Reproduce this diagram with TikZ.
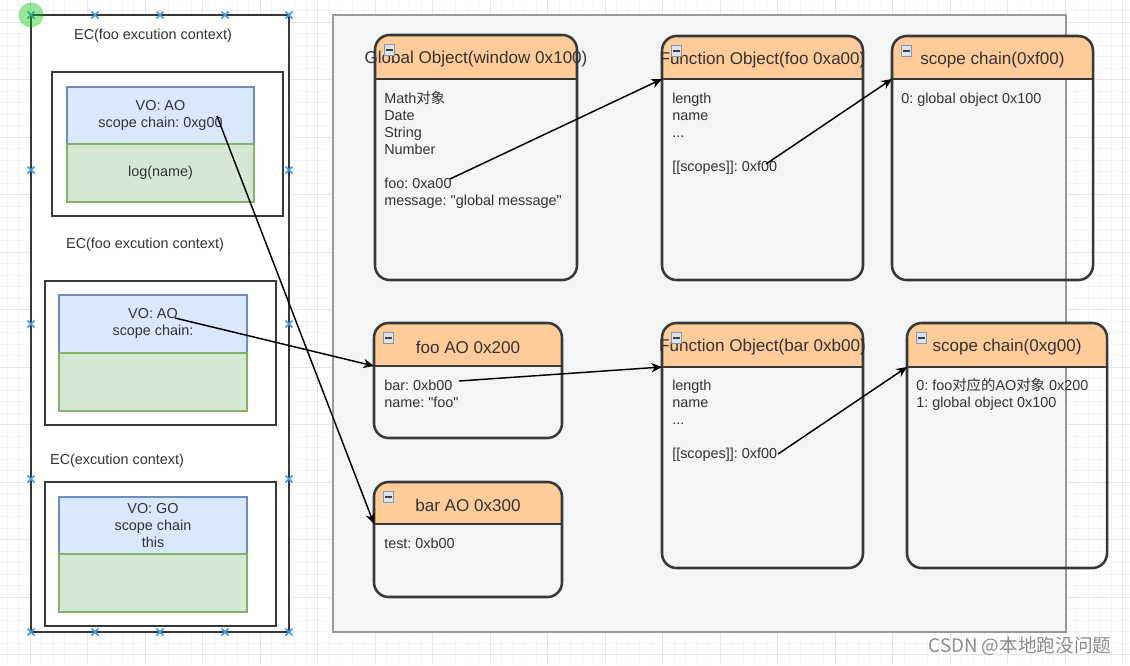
\documentclass[tikz,border=0pt]{standalone}
\usepackage{fontspec}
\setmainfont{Liberation Sans}
\newfontfamily\cjk{Noto Sans CJK SC}
\usetikzlibrary{fit,arrows.meta}
\frenchspacing
\definecolor{gridmaj}{HTML}{E6E6E6}
\definecolor{gridmin}{HTML}{F4F4F4}
\definecolor{panelfill}{HTML}{F4F5F7}
\definecolor{panelline}{HTML}{9A9A9A}
\definecolor{hdr}{HTML}{FFCC99}
\definecolor{boxline}{HTML}{383838}
\definecolor{txt}{HTML}{333333}
\definecolor{vofill}{HTML}{DAE8FC}
\definecolor{voline}{HTML}{6C8EBF}
\definecolor{exfill}{HTML}{D5E8D4}
\definecolor{exline}{HTML}{82B366}
\definecolor{xmkcol}{HTML}{3D9BE9}
\definecolor{iconfill}{HTML}{DCE3EC}
\definecolor{iconline}{HTML}{8496B0}
\definecolor{wmcol}{HTML}{8C8C8C}
\tikzset{
  bodytext/.style={font=\fontsize{10.8pt}{12.75pt}\selectfont, text=txt, inner sep=0pt, anchor=base west},
  ttl/.style={font=\fontsize{12.8pt}{15pt}\selectfont, text=txt, inner sep=0pt},
  eclabel/.style={font=\fontsize{10.8pt}{12.75pt}\selectfont, text=txt, inner sep=0pt},
  votext/.style={font=\fontsize{10.8pt}{13pt}\selectfont, text=txt, inner sep=0pt, align=center},
  objframe/.style={draw=boxline, line width=1.9pt, rounded corners=11pt, inner sep=0pt},
  divider/.style={draw=boxline, line width=1.9pt},
  framebox/.style={draw=boxline, line width=1.4pt, fill=white, inner sep=0pt},
  voblock/.style={draw=voline, fill=vofill, line width=0.9pt, inner sep=0pt},
  exblock/.style={draw=exline, fill=exfill, line width=0.9pt, inner sep=0pt},
  iconbox/.style={draw=iconline, fill=iconfill, line width=0.6pt, minimum size=8pt, inner sep=0pt,
    path picture={\draw[black!75, line width=1.1pt] ([xshift=-2.6pt]path picture bounding box.center) -- ([xshift=2.6pt]path picture bounding box.center);}},
  xmk/.style={draw=xmkcol, line width=1.2pt},
  conn/.style={draw=black, line width=1.1pt, -{Stealth[length=8pt,width=7pt]}},
}
\newcommand\objbox[7]{%
  \begin{scope}
    \clip (#2-3,#3-3) rectangle (#4+3,#6);
    \fill[hdr, rounded corners=11pt] (#2,#3) rectangle (#4,#5);
  \end{scope}
  \node[objframe, fit={(#2,#3)(#4,#5)}] (#1) {};
  \draw[divider] (#2,#6) -- (#4,#6);
  \coordinate (#1-h) at (#2,#6);
  \node[ttl] (#1-t) at ({(#2+#4)/2},{(#3+#6)/2+2.5}) {#7};
  \node[iconbox] (#1-i) at (#2+14.5,#3+15) {};
}
\newcommand\xm[2]{\draw[xmk] (#1-3.5,#2-3.5) -- (#1+3.5,#2+3.5) (#1-3.5,#2+3.5) -- (#1+3.5,#2-3.5);}
\newcommand\dq{\textquotedbl}
\begin{document}
\begin{tikzpicture}[x=0.75pt,y=-0.75pt]
\useasboundingbox (0,0) rectangle (1130,665);
\fill[white] (0,0) rectangle (1130,665);
% grid
\foreach \k in {0,...,98} {\draw[gridmin, line width=0.5pt] (7+11.5*\k,0) -- (7+11.5*\k,665);}
\foreach \k in {0,...,57} {\draw[gridmin, line width=0.5pt] (0,10.5+11.5*\k) -- (1130,10.5+11.5*\k);}
\foreach \k in {0,...,19} {\draw[gridmaj, line width=0.7pt] (30+57.5*\k,0) -- (30+57.5*\k,665);}
\foreach \k in {0,...,11} {\draw[gridmaj, line width=0.7pt] (0,22+57.5*\k) -- (1130,22+57.5*\k);}

% gray panel
\node[fit={(333,15)(1066,632)}, inner sep=0pt, fill=panelfill, draw=panelline, line width=0.9pt] (panel) {};

% left stack
\node[fit={(31,15)(289,632)}, framebox] (stack) {};
\node[eclabel] (ec1) at (153,36) {EC(foo excution context)};
\node[framebox, fit={(52,72)(283,216)}] (f1) {};
\node[voblock, fit={(67,87)(254,144)}] (vo1) {};
\node[exblock, fit={(67,144)(254,202)}] (ex1) {};
\node[votext] (vo1t) at (160.5,115.5) {VO: AO\\scope chain: 0xg00};
\node[eclabel] (ex1t) at (160.5,173) {log(name)};

\node[eclabel] (ec2) at (145,245) {EC(foo excution context)};
\node[framebox, fit={(45,281)(276,425)}] (f2) {};
\node[voblock, fit={(59,295)(247,353)}] (vo2) {};
\node[exblock, fit={(59,353)(247,411)}] (ex2) {};
\node[votext] (vo2t) at (153,323.5) {VO: AO\\scope chain:};

\node[eclabel] (ec3) at (117,461) {EC(excution context)};
\node[framebox, fit={(45,482)(276,626)}] (f3) {};
\node[voblock, fit={(59,497)(247,554)}] (vo3) {};
\node[exblock, fit={(59,554)(247,612)}] (ex3) {};
\node[votext] (vo3t) at (153,525.5) {VO: GO\\scope chain\\this};

% markers
\foreach \x in {31,95,160,225,289} {\xm{\x}{15}\xm{\x}{632}}
\foreach \y in {170,324,479} {\xm{31}{\y}\xm{289}{\y}}
\fill[green!75!black, opacity=0.4] (31,15) circle [radius=12.5];

% object boxes
\objbox{go}{375}{35}{577}{280}{79}{Global Object(window 0x100)}
\node[bodytext] (go1) at (384,103) {Math{\cjk 对象}};
\node[bodytext] (go2) at (384,120) {Date};
\node[bodytext] (go3) at (384,137) {String};
\node[bodytext] (go4) at (384,154) {Number};
\node[bodytext] (go5) at (384,188) {foo: 0xa00};
\node[bodytext] (go6) at (384,205) {message: \dq global message\dq};

\objbox{ff}{662}{36}{863}{280}{79}{Function Object(foo 0xa00)}
\node[bodytext] (ff1) at (672,103) {length};
\node[bodytext] (ff2) at (672,120) {name};
\node[bodytext] (ff3) at (672,137) {...};
\node[bodytext] (ff4) at (672,171) {[[scopes]]: 0xf00};

\objbox{sa}{892}{36}{1093}{280}{79}{scope chain(0xf00)}
\node[bodytext] (sa1) at (901,103) {0: global object 0x100};

\objbox{fa}{374}{323}{562}{438}{366}{foo AO 0x200}
\node[bodytext] (fa1) at (384,390) {bar: 0xb00};
\node[bodytext] (fa2) at (384,407) {name: \dq foo\dq};

\objbox{ba}{374}{482}{562}{597}{524}{bar AO 0x300}
\node[bodytext] (ba1) at (384,548) {test: 0xb00};

\objbox{fb}{662}{323}{863}{568}{367}{Function Object(bar 0xb00)}
\node[bodytext] (fb1) at (672,390) {length};
\node[bodytext] (fb2) at (672,407) {name};
\node[bodytext] (fb3) at (672,424) {...};
\node[bodytext] (fb4) at (672,458) {[[scopes]]: 0xf00};

\objbox{sb}{907}{323}{1107}{568}{367}{scope chain(0xg00)}
\node[bodytext] (sb1) at (916,390) {0: foo{\cjk 对应的}AO{\cjk 对象} 0x200};
\node[bodytext] (sb2) at (916,407) {1: global object 0x100};

% connector start points
\coordinate (s1) at (217,116);
\coordinate (s2) at (175,318);
\coordinate (s3) at (450,179);
\coordinate (s4) at (766,164);
\coordinate (s5) at (459,381);
\coordinate (s6) at (778,454);

\draw[conn] (s1) -- (ba-h);
\draw[conn] (s2) -- (fa-h);
\draw[conn] (s3) -- (ff-h);
\draw[conn] (s4) -- (sa-h);
\draw[conn] (s5) -- (fb-h);
\draw[conn] (s6) -- (sb-h);

\node[font=\cjk\fontsize{14pt}{16pt}\selectfont, text=wmcol, inner sep=0pt] (wm) at (1020,646) {CSDN @本地跑没问题};
\end{tikzpicture}
\end{document}
